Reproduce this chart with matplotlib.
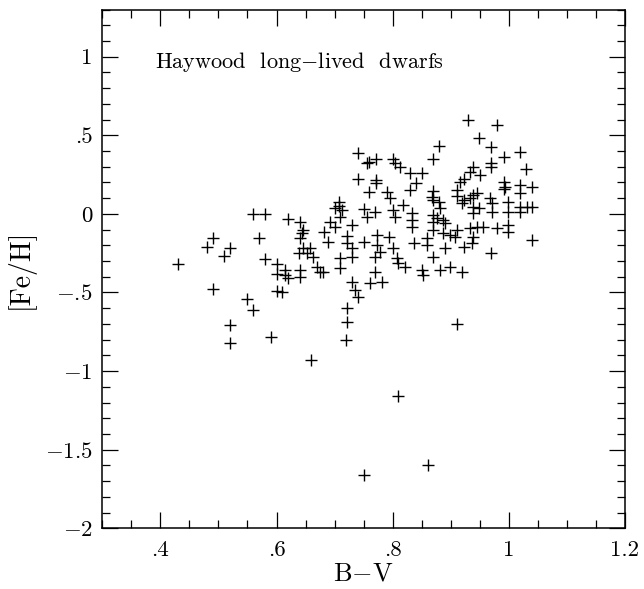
import matplotlib
matplotlib.use("Agg")
import matplotlib.pyplot as plt
from matplotlib.ticker import FixedLocator, FixedFormatter, MultipleLocator

plt.rcParams['mathtext.fontset'] = 'cm'
plt.rcParams['font.family'] = ['cmr10', 'DejaVu Serif']

# B-V colour index
bv = [0.43, 0.48, 0.49, 0.49, 0.51, 0.52, 0.52, 0.52, 0.55, 0.56, 0.56, 0.58, 0.57, 0.58, 0.60, 0.60, 0.60, 0.61,
      0.59, 0.66, 0.72, 0.81, 0.75, 0.86, 0.91,
      0.62, 0.64, 0.646, 0.643, 0.64, 0.681, 0.689, 0.721, 0.721, 0.73, 0.75, 0.773, 0.773, 0.793, 0.80, 0.778,
      0.77, 0.73, 0.709, 0.709, 0.646, 0.658, 0.652, 0.638, 0.663, 0.669, 0.675, 0.64, 0.64, 0.615, 0.615, 0.62,
      0.68, 0.73, 0.735, 0.741, 0.721, 0.721, 0.761, 0.781, 0.77, 0.807, 0.81, 0.821, 0.85, 0.853, 0.87, 0.882,
      0.836, 0.859, 0.859, 0.89, 0.887, 0.887,
      0.88, 0.87, 0.74, 0.755, 0.759, 0.771, 0.80, 0.804, 0.812, 0.74, 0.771, 0.771, 0.83, 0.85, 0.84, 0.83,
      0.76, 0.791, 0.796, 0.87, 0.867, 0.879, 0.708, 0.708, 0.712, 0.818, 0.70, 0.75, 0.755, 0.77, 0.80, 0.804,
      0.833, 0.833, 0.833, 0.869, 0.869, 0.869, 0.71, 0.692, 0.70, 0.73,
      0.93, 0.979, 0.949, 0.969, 1.019, 0.991, 0.969, 0.969, 1.03, 0.939, 0.933, 0.95, 0.922, 0.916, 0.991,
      0.994, 0.991, 1.019, 1.019, 1.04, 0.91, 0.91, 0.939, 0.933, 0.945, 0.922, 0.919, 0.968, 0.971, 0.999,
      0.999, 1.019, 1.031, 1.04, 1.019, 0.939, 0.948, 0.939, 0.971, 0.87, 0.882, 0.876, 0.89,
      0.91, 0.899, 0.907, 0.933, 0.945, 0.956, 0.979, 0.999, 0.999, 0.939, 0.936, 0.922, 1.04, 0.969,
      0.899, 0.919]

# [Fe/H] metallicity
feh = [-0.32, -0.21, -0.155, -0.48, -0.27, -0.22, -0.71, -0.82, -0.54, -0.61, 0.0, 0.0, -0.155, -0.29, -0.32, -0.38, -0.49, -0.50,
       -0.78, -0.93, -0.80, -1.16, -1.66, -1.60, -0.70,
       -0.034, -0.05, -0.10, -0.123, -0.155, -0.113, -0.177, -0.14, -0.187, -0.219, -0.177, -0.134, -0.198, -0.145, -0.219, -0.24,
       -0.272, -0.272, -0.282, -0.346, -0.219, -0.219, -0.25, -0.25, -0.272, -0.336, -0.368, -0.357, -0.40, -0.357, -0.389, -0.41,
       -0.368, -0.431, -0.484, -0.527, -0.60, -0.686, -0.442, -0.431, -0.368, -0.282, -0.314, -0.336, -0.357, -0.389, -0.272, -0.357,
       -0.187, -0.155, -0.198, -0.219, -0.04, -0.123,
       0.43, 0.347, 0.39, 0.326, 0.332, 0.347, 0.347, 0.322, 0.30, 0.22, 0.216, 0.195, 0.258, 0.262, 0.198, 0.152,
       0.136, 0.136, 0.10, 0.146, 0.109, 0.077, 0.077, 0.05, 0.025, 0.057, 0.036, 0.031, -0.018, 0.014, 0.025, -0.018,
       0.004, -0.04, -0.081, -0.007, -0.05, -0.10, -0.018, -0.05, -0.081, -0.07,
       0.60, 0.565, 0.481, 0.424, 0.396, 0.364, 0.322, 0.30, 0.284, 0.30, 0.268, 0.247, 0.22, 0.205, 0.205,
       0.173, 0.156, 0.184, 0.131, 0.17, 0.152, 0.114, 0.12, 0.10, 0.131, 0.089, 0.067, 0.10, 0.067, 0.077,
       0.014, 0.046, 0.042, 0.046, 0.014, 0.046, 0.036, 0.004, 0.014, 0.09, 0.036, -0.028, -0.06,
       -0.10, -0.134, -0.145, -0.092, -0.081, -0.081, -0.092, -0.071, -0.113, -0.145, -0.187, -0.208, -0.168, -0.247,
       -0.336, -0.368]

xtick_vals = [0.4, 0.6, 0.8, 1.0, 1.2]
xtick_labels = ['.4', '.6', '.8', '1', '1.2']
ytick_vals = [-2, -1.5, -1, -0.5, 0, 0.5, 1]
ytick_labels = ['$-$2', '$-$1.5', '$-$1', '$-$.5', '0', '.5', '1']

fig = plt.figure(figsize=(6.44, 5.89), dpi=100)
ax = fig.add_axes([102.3/644, 1 - 528.3/589, (625 - 102.3)/644, (528.3 - 9.5)/589])

ax.plot(bv, feh, linestyle='none', marker='+', color='black', markersize=9, markeredgewidth=1.0)

ax.set_xlim(0.3, 1.2)
ax.set_ylim(-2, 1.3)
ax.xaxis.set_major_locator(FixedLocator(xtick_vals))
ax.xaxis.set_major_formatter(FixedFormatter(xtick_labels))
ax.xaxis.set_minor_locator(MultipleLocator(0.05))
ax.yaxis.set_major_locator(FixedLocator(ytick_vals))
ax.yaxis.set_major_formatter(FixedFormatter(ytick_labels))
ax.yaxis.set_minor_locator(MultipleLocator(0.1))

ax.tick_params(which='both', direction='in', top=True, right=True, labelsize=16.5, width=0.9, colors='black')
ax.tick_params(which='major', length=11.5)
ax.tick_params(which='minor', length=6)
ax.tick_params(axis='x', which='major', pad=9)
ax.tick_params(axis='y', which='major', pad=7)
for s in ax.spines.values():
    s.set_linewidth(1.1)

ax.set_xlabel('B$-$V', fontsize=19, labelpad=1)
ax.set_ylabel('[Fe/H]', fontsize=20, labelpad=7)

ax.text(0.391, 0.967, 'Haywood  long$-$lived  dwarfs', fontsize=16, va='center', ha='left')

fig.savefig('out.png', dpi=100)
